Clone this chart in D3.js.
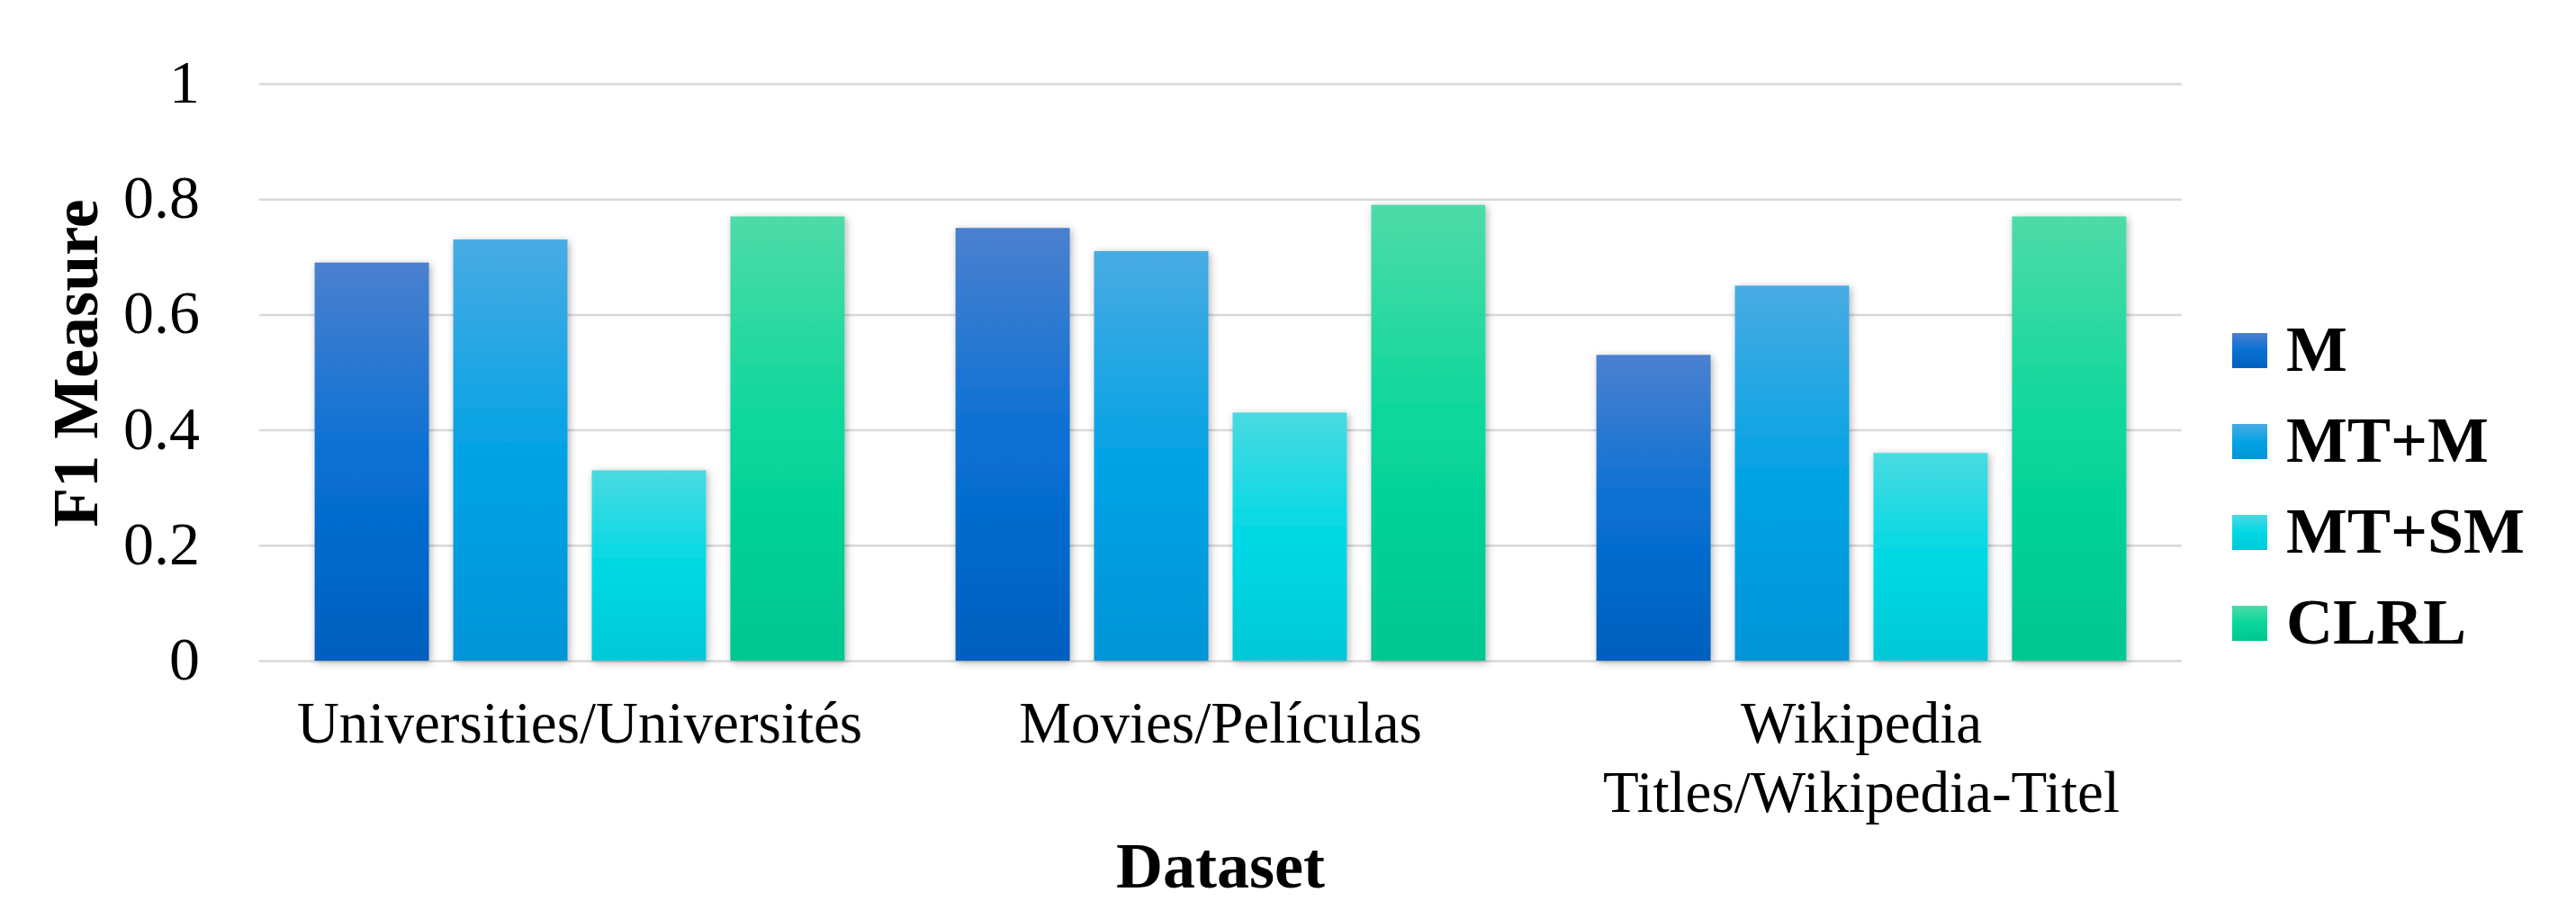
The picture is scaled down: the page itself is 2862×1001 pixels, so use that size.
<!DOCTYPE html>
<html>
<head>
<meta charset="utf-8">
<script src="https://cdn.jsdelivr.net/npm/d3@7"></script>
<style>
  html, body { margin: 0; padding: 0; background: #fff; }
  svg { display: block; }
  text { font-family: "Liberation Serif", "Times New Roman", serif; fill: #000; }
</style>
</head>
<body>
<script>
// chart data
const categories = ["Universities/Universités", "Movies/Películas", "Wikipedia Titles/Wikipedia-Titel"];
const seriesNames = ["M", "MT+M", "MT+SM", "CLRL"];
const valuesM = [0.69, 0.75, 0.53];
const valuesMTM = [0.73, 0.71, 0.65];
const valuesMTSM = [0.33, 0.43, 0.36];
const valuesCLRL = [0.77, 0.79, 0.77];
const yTicks = [0, 0.2, 0.4, 0.6, 0.8, 1];
const yTitle = "F1 Measure";
const xTitle = "Dataset";

// gradient top / middle / bottom per series
const palette = [
  ["#4b80cf", "#0870d3", "#0060bf"],
  ["#49abe3", "#04a3e4", "#0095d8"],
  ["#4adae1", "#00d9e5", "#00c8d9"],
  ["#4edba8", "#08d79b", "#00c690"]
];

const seriesValues = [valuesM, valuesMTM, valuesMTSM, valuesCLRL];
const rows = categories.map((c, i) => ({
  category: c,
  bars: seriesNames.map((s, j) => ({ series: s, idx: j, value: seriesValues[j][i] }))
}));

const width = 2862, height = 1001;
const plotLeft = 288, plotRight = 2424, plotTop = 93, plotBottom = 734;

const svg = d3.select("body").append("svg")
  .attr("width", width)
  .attr("height", height);

svg.append("rect").attr("width", width).attr("height", height).attr("fill", "#fff");

const defs = svg.append("defs");
palette.forEach((cols, i) => {
  const g = defs.append("linearGradient")
    .attr("id", "grad-" + i)
    .attr("x1", 0).attr("y1", 0).attr("x2", 0).attr("y2", 1);
  g.append("stop").attr("offset", "0%").attr("stop-color", cols[0]);
  g.append("stop").attr("offset", "50%").attr("stop-color", cols[1]);
  g.append("stop").attr("offset", "100%").attr("stop-color", cols[2]);
});

const shadow = defs.append("filter")
  .attr("id", "shadow")
  .attr("x", "-20%").attr("y", "-5%").attr("width", "140%").attr("height", "110%");
shadow.append("feDropShadow")
  .attr("dx", 2).attr("dy", 2)
  .attr("stdDeviation", 4)
  .attr("flood-color", "#000")
  .attr("flood-opacity", 0.3);

// scales
const x0 = d3.scaleBand()
  .domain(categories)
  .range([plotLeft, plotRight])
  .paddingInner(0.173)
  .paddingOuter(0.0865);

const x1 = d3.scaleBand()
  .domain(seriesNames)
  .range([0, x0.bandwidth()])
  .paddingInner(0.175);

const y = d3.scaleLinear()
  .domain([0, 1])
  .range([plotBottom, plotTop]);

// y axis + gridlines
const yAxis = svg.append("g")
  .attr("transform", "translate(" + plotLeft + ",0)")
  .call(d3.axisLeft(y)
    .tickValues(yTicks)
    .tickSizeInner(-(plotRight - plotLeft))
    .tickSizeOuter(0)
    .tickPadding(66)
    .tickFormat(d => String(+d.toFixed(1))));
yAxis.select(".domain").remove();
yAxis.selectAll(".tick line")
  .attr("stroke", "#d9d9d9")
  .attr("stroke-width", 2.5);
yAxis.selectAll(".tick text")
  .attr("font-size", 68)
  .attr("dy", "0.3em");

// bars
const groups = svg.append("g")
  .selectAll("g")
  .data(rows)
  .join("g")
  .attr("transform", d => "translate(" + x0(d.category) + ",0)");

groups.selectAll("rect")
  .data(d => d.bars)
  .join("rect")
  .attr("x", d => x1(d.series))
  .attr("y", d => y(d.value))
  .attr("width", x1.bandwidth())
  .attr("height", d => y(0) - y(d.value))
  .attr("fill", d => "url(#grad-" + d.idx + ")")
  .attr("filter", "url(#shadow)");

// x axis labels
const xAxis = svg.append("g")
  .attr("transform", "translate(0," + plotBottom + ")")
  .call(d3.axisBottom(x0).tickSize(0).tickPadding(0));
xAxis.select(".domain").remove();
xAxis.selectAll(".tick text")
  .attr("font-size", 65)
  .attr("y", 91)
  .attr("dy", 0)
  .call(wrap, x0.step());

function wrap(texts, w) {
  texts.each(function () {
    const text = d3.select(this);
    const words = text.text().split(/\s+/);
    const yy = text.attr("y");
    text.text(null);
    let line = [];
    let tspan = text.append("tspan").attr("x", 0).attr("y", yy);
    let n = 0;
    words.forEach(word => {
      line.push(word);
      tspan.text(line.join(" "));
      if (tspan.node().getComputedTextLength() > w && line.length > 1) {
        line.pop();
        tspan.text(line.join(" "));
        line = [word];
        n++;
        tspan = text.append("tspan").attr("x", 0).attr("y", +yy + n * 77).text(word);
      }
    });
  });
}

// axis titles
svg.append("text")
  .attr("transform", "translate(108," + ((plotTop + plotBottom) / 2 - 10) + ") rotate(-90)")
  .attr("text-anchor", "middle")
  .attr("font-size", 72)
  .attr("font-weight", "bold")
  .text(yTitle);

svg.append("text")
  .attr("x", (plotLeft + plotRight) / 2)
  .attr("y", 986)
  .attr("text-anchor", "middle")
  .attr("font-size", 72)
  .attr("font-weight", "bold")
  .text(xTitle);

// legend
const legendY = d3.scaleBand()
  .domain(seriesNames)
  .range([370, 370 + 101 * seriesNames.length]);

const legend = svg.append("g")
  .selectAll("g")
  .data(seriesNames)
  .join("g")
  .attr("transform", d => "translate(2480," + legendY(d) + ")");

legend.append("rect")
  .attr("width", 39)
  .attr("height", 39)
  .attr("fill", (d, i) => "url(#grad-" + i + ")");

legend.append("text")
  .attr("x", 60)
  .attr("y", 42)
  .attr("font-size", 72)
  .attr("font-weight", "bold")
  .text(d => d);
</script>
</body>
</html>
